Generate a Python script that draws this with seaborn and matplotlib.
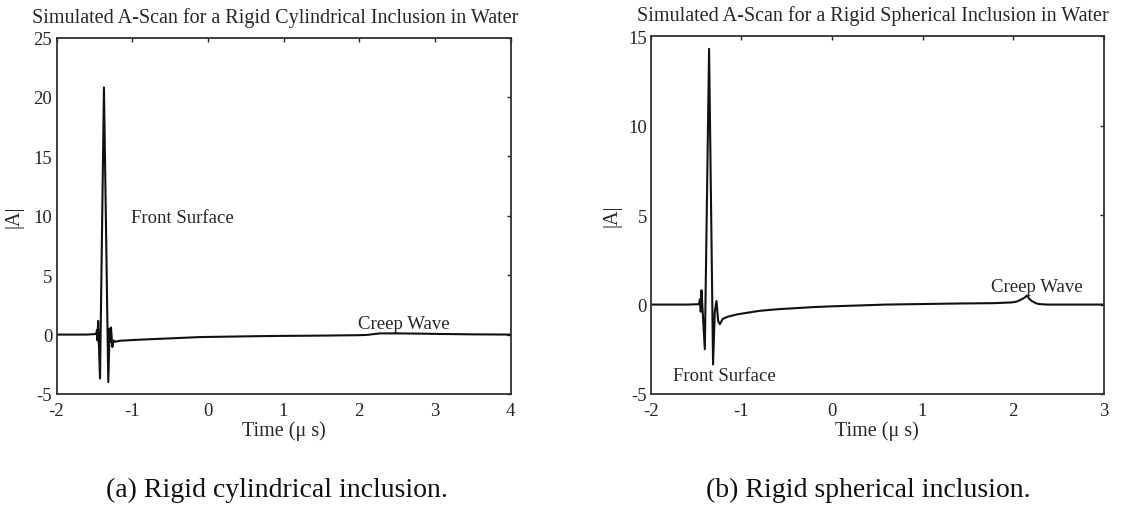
import matplotlib
matplotlib.use("Agg")
import matplotlib.pyplot as plt
import pandas as pd
import seaborn as sns

# ---- data ----
t_cyl = [-2.00, -1.60, -1.475, -1.465, -1.458, -1.450, -1.425, -1.373, -1.316,
         -1.298, -1.288, -1.280, -1.263, -1.245, -1.227, -1.161, -1.00, -0.80,
         -0.50, -0.104, 0.30, 0.70, 1.00, 1.24, 1.60, 2.00, 2.10, 2.164, 2.273,
         2.50, 2.80, 3.10, 3.50, 4.00]
a_cyl = [0.00, 0.00, 0.05, 0.40, -0.50, 1.15, -3.70, 20.80, -4.00,
         0.50, -0.60, 0.60, -1.05, -0.50, -0.60, -0.52, -0.46, -0.40,
         -0.32, -0.21, -0.17, -0.13, -0.11, -0.10, -0.08, -0.05, -0.03, 0.02, 0.10,
         0.10, 0.08, 0.05, 0.02, 0.00]

t_sph = [-2.00, -1.60, -1.470, -1.458, -1.450, -1.442, -1.405, -1.358, -1.314,
         -1.295, -1.276, -1.258, -1.240, -1.207, -1.152, -1.05, -0.90, -0.80,
         -0.60, -0.40, -0.20, -0.01, 0.30, 0.60, 1.00, 1.40, 1.80, 1.987, 2.05,
         2.12, 2.155, 2.18, 2.207, 2.25, 2.284, 2.372, 2.60, 3.00]
a_sph = [0.00, 0.00, 0.02, 0.30, -0.40, 0.80, -2.50, 14.30, -3.35,
         -0.40, 0.20, -0.90, -1.10, -0.80, -0.68, -0.55, -0.43, -0.35,
         -0.26, -0.20, -0.14, -0.10, -0.05, 0.00, 0.03, 0.06, 0.08, 0.12, 0.18,
         0.36, 0.50, 0.32, 0.20, 0.08, 0.03, 0.00, 0.00, 0.00]

titles = ["Simulated A-Scan for a Rigid Cylindrical Inclusion in Water",
          "Simulated A-Scan for a Rigid Spherical Inclusion in Water"]
captions = ["(a) Rigid cylindrical inclusion.", "(b) Rigid spherical inclusion."]
xticks_cyl = [-2, -1, 0, 1, 2, 3, 4]
yticks_cyl = [-5, 0, 5, 10, 15, 20, 25]
xticks_sph = [-2, -1, 0, 1, 2, 3]
yticks_sph = [-5, 0, 5, 10, 15]
x_label = "Time (\u03bc s)"
y_label = "|A|"
notes_cyl = [("Front Surface", -1.016, 9.87), ("Creep Wave", 1.987, 0.95)]
notes_sph = [("Front Surface", -1.754, -3.97), ("Creep Wave", 1.752, 1.02)]

# ---- style ----
sns.set_theme(style="white")
plt.rcParams["font.family"] = ["Liberation Serif", "DejaVu Serif"]
TXT = "#262626"

fig = plt.figure(figsize=(11.28, 5.10), dpi=100)
ax1 = fig.add_axes([0.0501, 0.2255, 0.4025, 0.699])
ax2 = fig.add_axes([0.5771, 0.2255, 0.4012, 0.7014])

specs = [
    (ax1, t_cyl, a_cyl, xticks_cyl, yticks_cyl, titles[0], notes_cyl, 0.482, 7.5),
    (ax2, t_sph, a_sph, xticks_sph, yticks_sph, titles[1], notes_sph, 0.490, 5.0),
]

for ax, t, a, xt, yt, title, notes, tx, ylp in specs:
    df = pd.DataFrame({"t": t, "a": a})
    sns.lineplot(data=df, x="t", y="a", ax=ax, color="#111111", lw=1.5,
                 estimator=None, sort=True)
    ax.set_xlim(xt[0], xt[-1])
    ax.set_ylim(yt[0], yt[-1])
    ax.set_xticks(xt)
    ax.set_yticks(yt)
    ax.set_xticklabels([str(v) for v in xt])
    ax.set_yticklabels([str(v) for v in yt])
    ax.tick_params(direction="in", length=3, width=1, top=True, right=True,
                   labelsize=13.5, colors=TXT)
    ax.tick_params(axis="x", pad=6)
    ax.tick_params(axis="y", pad=3)
    for s in ax.spines.values():
        s.set_visible(True)
        s.set_color("#303030")
        s.set_linewidth(1.3)
    ax.set_title(title, fontsize=14.5, color=TXT, pad=11.5, x=tx)
    ax.set_xlabel(x_label, fontsize=14.5, color=TXT, labelpad=1)
    ax.set_ylabel(y_label, fontsize=14.5, color=TXT, labelpad=ylp)
    for txt, x, y in notes:
        ax.text(x, y, txt, fontsize=13.5, color=TXT, ha="left", va="center")

fig.text(276.5 / 1128, 1 - 490 / 510, captions[0], fontsize=20, color="#111111",
         ha="center", va="center")
fig.text(868 / 1128, 1 - 490 / 510, captions[1], fontsize=20, color="#111111",
         ha="center", va="center")

fig.savefig("out.png", dpi=100, facecolor="white")
